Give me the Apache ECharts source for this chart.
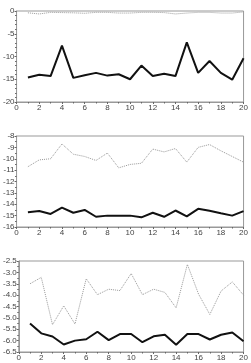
<!DOCTYPE html>
<html>
<head>
<meta charset="utf-8">
<script src="https://cdn.jsdelivr.net/npm/echarts@6/dist/echarts.min.js"></script>
<style>
  html, body { margin: 0; padding: 0; background: #fff; }
  #chart { width: 251px; height: 363px; }
</style>
</head>
<body>
<div id="chart"></div>
<script>
// x positions shared by all three panels
const xs = [1, 2, 3, 4, 5, 6, 7, 8, 9, 10, 11, 12, 13, 14, 15, 16, 17, 18, 19, 20]

// panel 1
const top1Dotted = [-0.4, -0.65, -0.3, -0.35, -0.4, -0.5, -0.3, -0.3, -0.45, -0.45, -0.3, -0.3, -0.35, -0.65, -0.45, -0.3, -0.3, -0.45, -0.45, -0.2]
const top1Solid = [-14.6, -14.0, -14.3, -7.6, -14.7, -14.1, -13.6, -14.2, -13.9, -15.0, -12.0, -14.3, -13.8, -14.3, -6.9, -13.6, -11.0, -13.6, -15.1, -10.4]

// panel 2
const mid2Dotted = [-10.7, -10.1, -10.0, -8.7, -9.6, -9.8, -10.15, -9.5, -10.8, -10.5, -10.4, -9.15, -9.4, -9.1, -10.3, -9.0, -8.75, -9.3, -9.8, -10.3]
const mid2Solid = [-14.7, -14.6, -14.85, -14.3, -14.75, -14.5, -15.1, -15.0, -15.0, -15.0, -15.15, -14.75, -15.1, -14.55, -15.07, -14.4, -14.58, -14.8, -15.0, -14.6]

// panel 3
const bot3Dotted = [-3.5, -3.22, -5.3, -4.47, -5.27, -3.28, -3.98, -3.74, -3.8, -3.05, -3.98, -3.74, -3.88, -4.56, -2.65, -3.96, -4.85, -3.82, -3.42, -4.0]
const bot3Solid = [-5.25, -5.68, -5.82, -6.17, -6.0, -5.94, -5.61, -5.98, -5.71, -5.71, -6.07, -5.81, -5.74, -6.18, -5.71, -5.71, -5.95, -5.74, -5.64, -6.03]

// y ranges per panel
const yMin = [-20, -16, -6.5]
const yMax = [0, -8, -2.5]
const yStep = [5, 1, 0.5]
const yMinorSplit = [5, 2, 2]

const pair = arr => arr.map((v, i) => [xs[i], v])

const chart = echarts.init(document.getElementById('chart'))

const labelStyle = { fontSize: 8, color: '#444', fontFamily: 'Liberation Sans', margin: 2 }
const tops = [11, 136, 261]

const grids = tops.map(t => ({
  left: 13, right: 2, top: t, height: 91,
  show: true, borderColor: '#999', borderWidth: 1, backgroundColor: '#fff'
}))

const xAxes = tops.map((t, i) => ({
  type: 'value', gridIndex: i, min: 0, max: 20, interval: 2,
  axisLine: { show: true, onZero: false, lineStyle: { color: '#999' } },
  axisTick: { show: true, inside: false, length: 2, lineStyle: { color: '#666' } },
  minorTick: { show: true, splitNumber: 2, length: 1.5, lineStyle: { color: '#666' } },
  axisLabel: labelStyle,
  splitLine: { show: false }
}))

const yAxes = tops.map((t, i) => ({
  type: 'value', gridIndex: i, min: yMin[i], max: yMax[i], interval: yStep[i],
  axisLine: { show: true, onZero: false, lineStyle: { color: '#999' } },
  axisTick: { show: true, inside: false, length: 2, lineStyle: { color: '#666' } },
  minorTick: { show: true, splitNumber: yMinorSplit[i], length: 1.5, lineStyle: { color: '#666' } },
  axisLabel: Object.assign({}, labelStyle, {
    formatter: v => (i === 2 ? v.toFixed(1) : String(v))
  }),
  splitLine: { show: false }
}))

const dotted = (data, i) => ({
  type: 'line', xAxisIndex: i, yAxisIndex: i, data: pair(data),
  symbol: 'none', lineStyle: { color: '#999', width: 1, type: [1, 1] }
})
const solid = (data, i) => ({
  type: 'line', xAxisIndex: i, yAxisIndex: i, data: pair(data),
  symbol: 'none', lineStyle: { color: '#111', width: 2 }
})

chart.setOption({
  animation: false,
  backgroundColor: '#fff',
  grid: grids,
  xAxis: xAxes,
  yAxis: yAxes,
  series: [
    dotted(top1Dotted, 0), solid(top1Solid, 0),
    dotted(mid2Dotted, 1), solid(mid2Solid, 1),
    dotted(bot3Dotted, 2), solid(bot3Solid, 2)
  ]
})
</script>
</body>
</html>
